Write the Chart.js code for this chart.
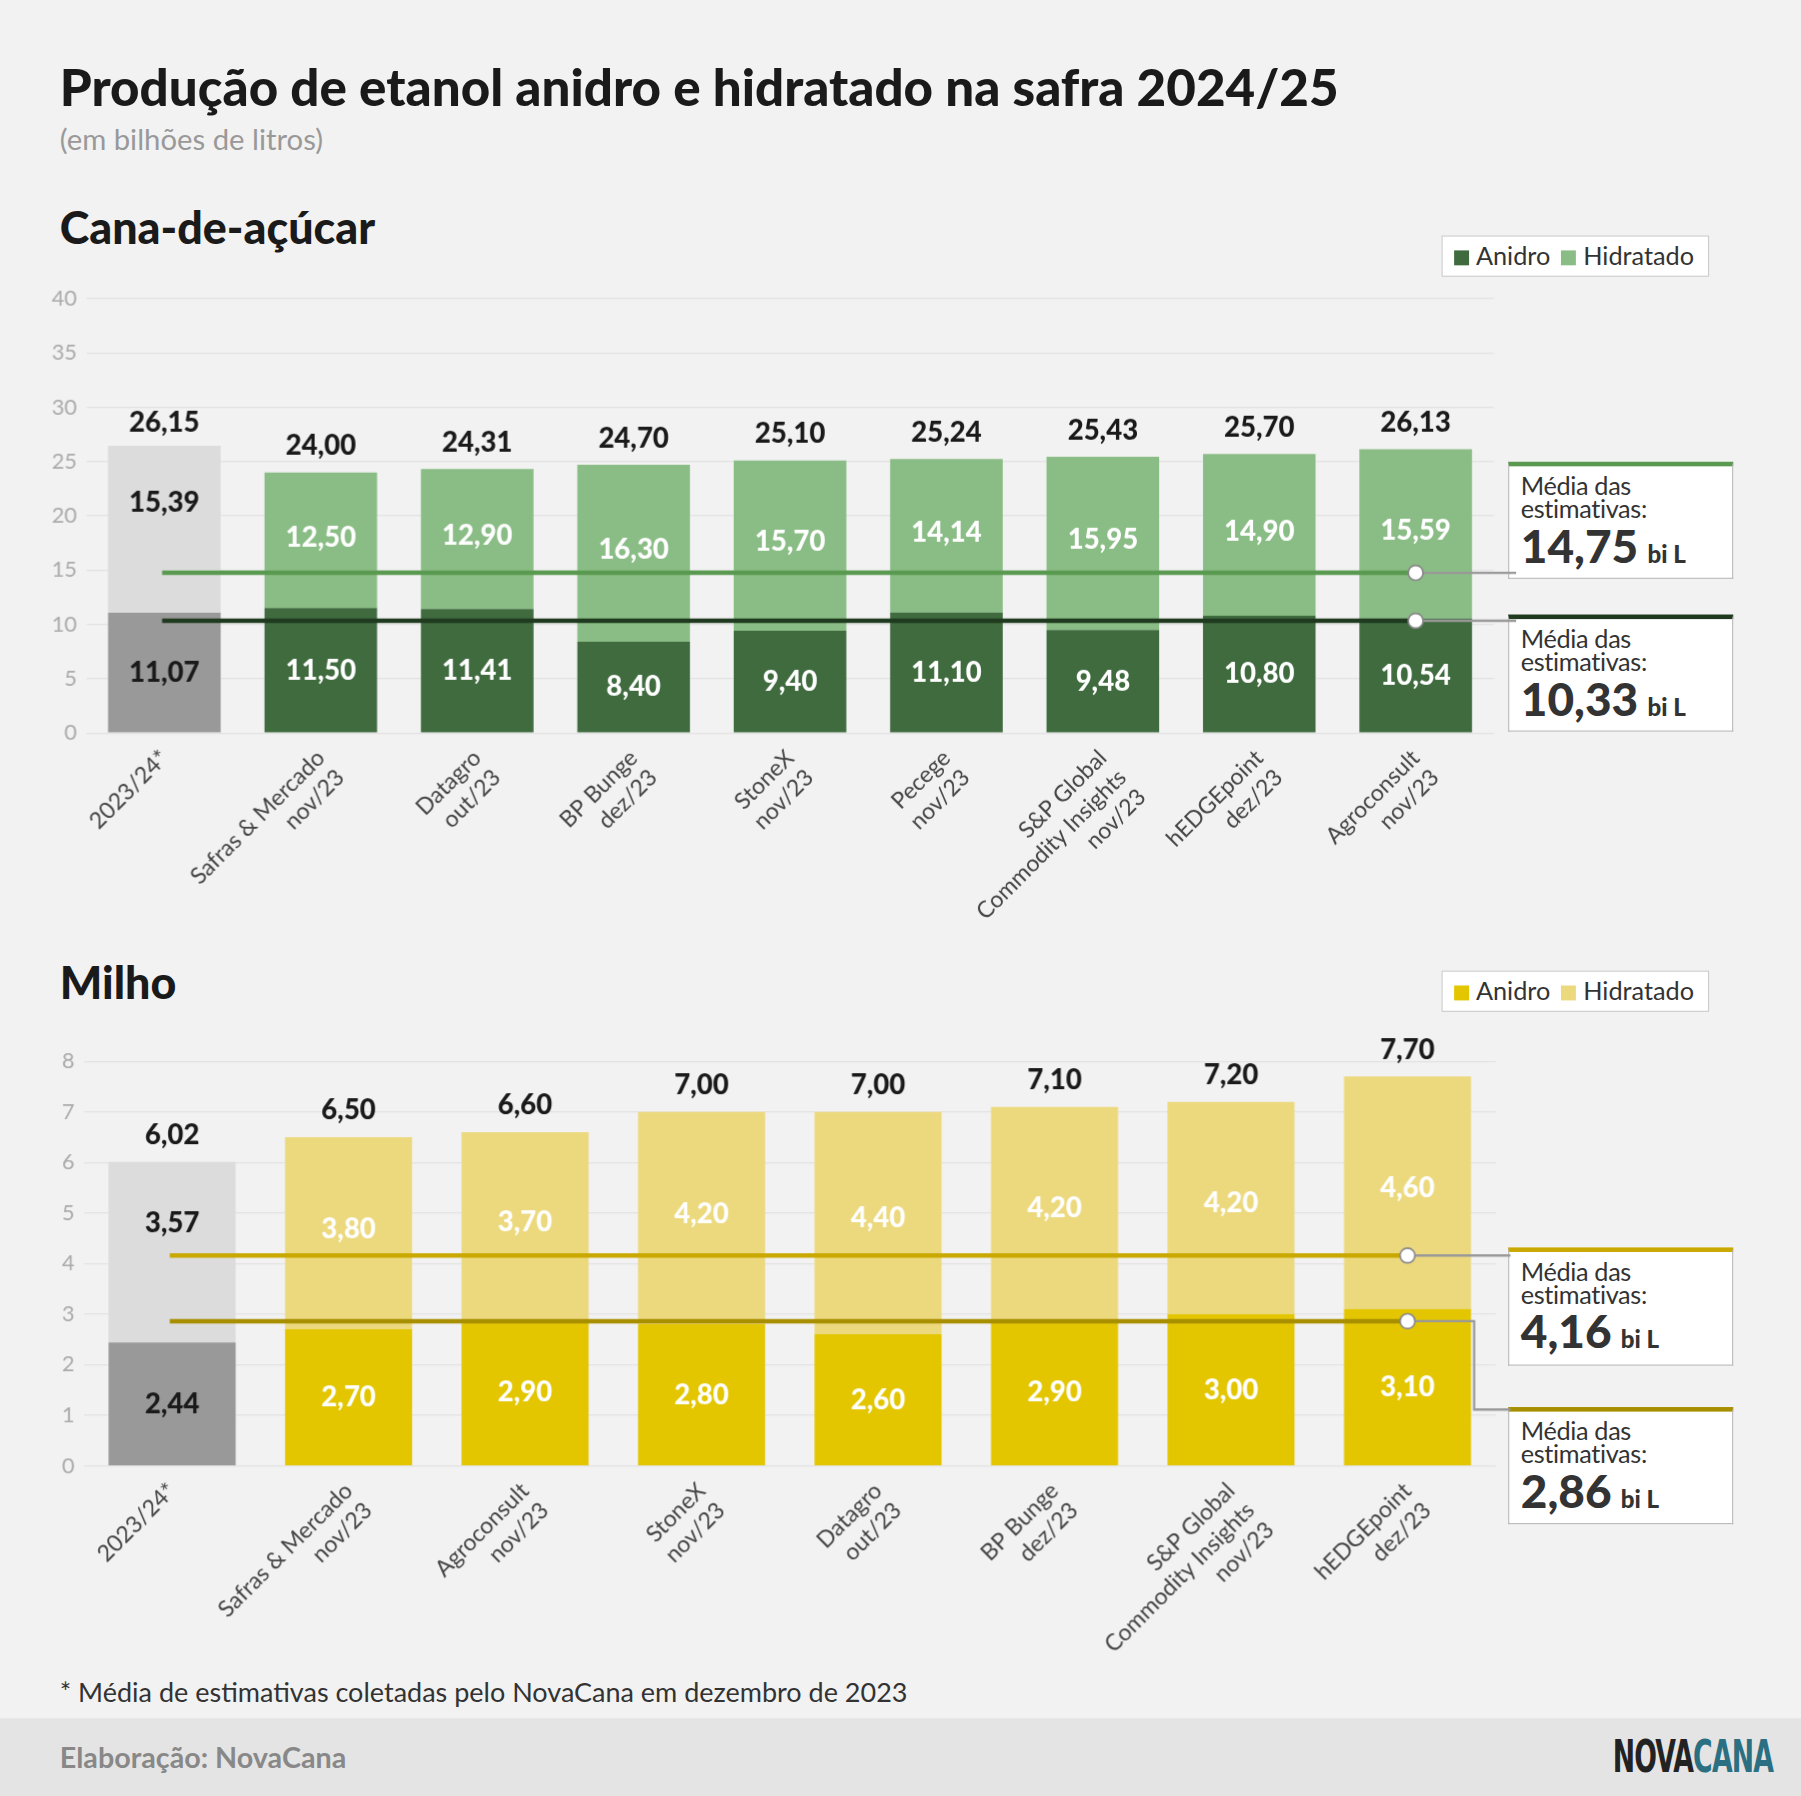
<!DOCTYPE html>
<html><head><meta charset="utf-8">
<script src="https://cdn.jsdelivr.net/npm/chart.js@4/dist/chart.umd.min.js"></script>
<style>
html,body{margin:0;padding:0;background:#f2f2f2;font-family:Lato,sans-serif;width:1801px;height:1796px;overflow:hidden;}
#wrap{position:absolute;left:0;top:0;width:1568px;height:1564px;transform:scale(1.14860);transform-origin:0 0;background:#f2f2f2;}
.t{position:absolute;white-space:nowrap;color:#1a1a1a;}
.legend{position:absolute;background:#fff;border:1px solid #ccc;font-size:22px;color:#333;padding:0 12px 0 6px;height:34px;line-height:34px;}
.legend span.sw{display:inline-block;width:13px;height:13px;margin:0 6px 0 4px;}
.box{position:absolute;left:1313px;width:196px;background:#fff;border:1px solid #bbb;border-top:4px solid;box-sizing:border-box;padding:7px 10px;}
.box .a{font-size:22px;line-height:20px;color:#333;letter-spacing:-0.3px;}
.box .v{font-size:40px;font-weight:900;color:#333;line-height:44px;}
.box .v small{font-size:21px;font-weight:900;margin-left:8px;}
canvas{position:absolute;}
</style></head><body>
<div id="wrap">
<div class="t" style="left:52px;top:48px;font-size:44.5px;font-weight:900;">Produção de etanol anidro e hidratado na safra 2024/25</div>
<div class="t" style="left:52px;top:106px;font-size:25.5px;color:#999;">(em bilhões de litros)</div>
<div class="t" style="left:52px;top:174px;font-size:39px;font-weight:900;">Cana-de-açúcar</div>
<div class="legend" style="left:1255px;top:205px;"><span class="sw" style="background:#3f6b3f"></span>Anidro <span class="sw" style="background:#8abd85"></span>Hidratado</div>
<div class="t" style="left:52px;top:832px;font-size:39px;font-weight:900;">Milho</div>
<div class="legend" style="left:1255px;top:845px;"><span class="sw" style="background:#e3c600"></span>Anidro <span class="sw" style="background:#edd97d"></span>Hidratado</div>

<div class="box" style="top:402px;border-top-color:#5a9a50;height:102px;"><div class="a">Média das<br>estimativas:</div><div class="v">14,75<small>bi L</small></div></div>
<div class="box" style="top:535px;border-top-color:#1f3a1f;height:102px;"><div class="a">Média das<br>estimativas:</div><div class="v">10,33<small>bi L</small></div></div>
<div class="box" style="top:1086px;border-top-color:#c9a800;height:103px;"><div class="a">Média das<br>estimativas:</div><div class="v">4,16<small>bi L</small></div></div>
<div class="box" style="top:1225px;border-top-color:#a88f00;height:102px;"><div class="a">Média das<br>estimativas:</div><div class="v">2,86<small>bi L</small></div></div>

<canvas id="c1" style="left:30px;top:240px;"></canvas>
<canvas id="c2" style="left:28px;top:889px;"></canvas>

<div class="t" style="left:52px;top:1459px;font-size:23.5px;color:#333;">* Média de estimativas coletadas pelo NovaCana em dezembro de 2023</div>
<div style="position:absolute;left:0;top:1496px;width:1568px;height:68px;background:#e4e4e4;"></div>
<div class="t" style="left:52px;top:1514px;font-size:25px;color:#888;font-weight:700;">Elaboração: NovaCana</div>
<div class="t" style="left:1404px;top:1508px;font-size:38px;font-weight:900;letter-spacing:-1px;transform:scaleX(0.68);transform-origin:0 0;font-family:'Liberation Sans Narrow','DejaVu Sans Condensed',sans-serif;"><span style="color:#222">NOVA</span><span style="color:#2a6f82">CANA</span></div>
</div>
<script>
const canaLabels=[["2023/24*"],["Safras & Mercado","nov/23"],["Datagro","out/23"],["BP Bunge","dez/23"],["StoneX","nov/23"],["Pecege","nov/23"],["S&P Global","Commodity Insights","nov/23"],["hEDGEpoint","dez/23"],["Agroconsult","nov/23"]];
const canaAnidro=[11.07,11.50,11.41,8.40,9.40,11.10,9.48,10.80,10.54];
const canaHidratado=[15.39,12.50,12.90,16.30,15.70,14.14,15.95,14.90,15.59];
const canaTotal=[26.15,24.00,24.31,24.70,25.10,25.24,25.43,25.70,26.13];
const canaMeans=[14.75,10.33];
const milhoLabels=[["2023/24*"],["Safras & Mercado","nov/23"],["Agroconsult","nov/23"],["StoneX","nov/23"],["Datagro","out/23"],["BP Bunge","dez/23"],["S&P Global","Commodity Insights","nov/23"],["hEDGEpoint","dez/23"]];
const milhoAnidro=[2.44,2.70,2.90,2.80,2.60,2.90,3.00,3.10];
const milhoHidratado=[3.57,3.80,3.70,4.20,4.40,4.20,4.20,4.60];
const milhoTotal=[6.02,6.50,6.60,7.00,7.00,7.10,7.20,7.70];
const milhoMeans=[4.16,2.86];

const fmt=v=>v.toFixed(2).replace('.',',');
const DPR=1.1486;

function make(id,w,h,labels,an,hy,tot,means,cols,yMax,yStep,meanCols,xAxisH,padR,padT,elbow){
  const lp={id:'lbl',afterDatasetsDraw(ch){
    const c=ch.ctx,ys=ch.scales.y,xs=ch.scales.x;
    means.forEach((m,k)=>{
      const y=ys.getPixelForValue(m);
      const x0=xs.getPixelForValue(0)-2,x1=xs.getPixelForValue(labels.length-1);
      c.save();
      c.strokeStyle='#999';c.lineWidth=2;c.beginPath();c.moveTo(x1,y);
      if(elbow!==null&&k===1){c.lineTo(x1+58,y);c.lineTo(x1+58,elbow);c.lineTo(ch.width,elbow);}
      else c.lineTo(ch.width,y);
      c.stroke();
      c.strokeStyle=meanCols[k];c.lineWidth=4;c.beginPath();c.moveTo(x0,y);c.lineTo(x1,y);c.stroke();
      c.fillStyle='#fff';c.strokeStyle='#888';c.lineWidth=1.5;c.beginPath();c.arc(x1,y,6.5,0,Math.PI*2);c.fill();c.stroke();
      c.restore();
    });
    c.save();c.textAlign='center';c.textBaseline='middle';c.font='900 24px Lato';
    labels.forEach((l,i)=>{
      const x=xs.getPixelForValue(i);
      c.fillStyle=i===0?'#1a1a1a':'#fff';
      c.fillText(fmt(an[i]),x,ys.getPixelForValue(an[i]/2));
      c.fillText(fmt(hy[i]),x,ys.getPixelForValue(an[i]+hy[i]*(i===0?0.66:0.52)));
      c.fillStyle='#1a1a1a';
      c.fillText(fmt(tot[i]),x,ys.getPixelForValue(tot[i])-23);
    });
    c.restore();
  }};
  const el=document.getElementById(id);
  el.style.width=w+'px';el.style.height=h+'px';
  return new Chart(el,{type:'bar',
    data:{labels,datasets:[
      {label:'Anidro',data:an,backgroundColor:an.map((v,i)=>i===0?'#999999':cols[0]),stack:'s',barPercentage:0.72,categoryPercentage:1},
      {label:'Hidratado',data:hy,backgroundColor:hy.map((v,i)=>i===0?'#dcdcdc':cols[1]),stack:'s',barPercentage:0.72,categoryPercentage:1}]},
    options:{responsive:false,devicePixelRatio:DPR,animation:false,
      layout:{padding:{top:padT,right:padR,left:0,bottom:0}},
      plugins:{legend:{display:false},tooltip:{enabled:false}},
      scales:{
        x:{stacked:true,grid:{display:false},border:{display:false},
          ticks:{minRotation:45,maxRotation:45,autoSkip:false,font:{family:'Lato',size:20},color:'#444',padding:2,lineHeight:1.0},
          afterFit(s){s.height=xAxisH;}},
        y:{stacked:true,min:0,max:yMax,grid:{color:'#e2e2e2',drawTicks:false},border:{display:false},
          ticks:{stepSize:yStep,font:{family:'Lato',size:19},color:'#aaa',padding:8},
          afterFit(s){s.width=45;}}
      }},
    plugins:[lp]});
}
const c1=document.getElementById('c1');c1.width=1290;c1.height=600;
const c2=document.getElementById('c2');c2.width=1287;c2.height=567;
make('c1',1290,600,canaLabels,canaAnidro,canaHidratado,canaTotal,canaMeans,['#3f6b3f','#8abd85'],40,5,['#5a9a50','#1f3a1f'],202,20,20,null);
make('c2',1287,567,milhoLabels,milhoAnidro,milhoHidratado,milhoTotal,milhoMeans,['#e3c600','#edd97d'],8,1,['#c9a800','#a88f00'],180,13,35,1227-889);
</script>
</body></html>
